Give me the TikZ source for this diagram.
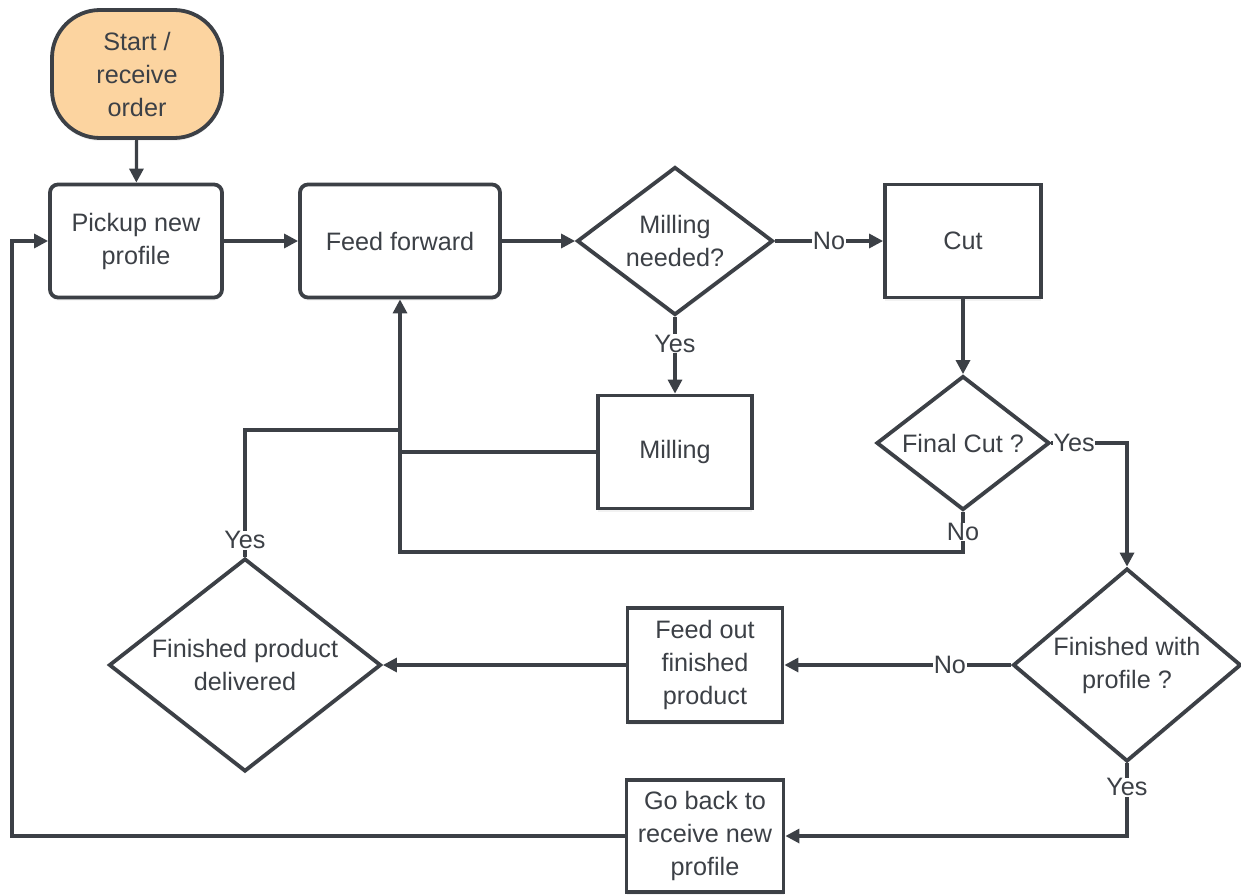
\documentclass[tikz,border=0pt]{standalone}
\usepackage{fontspec}
\setmainfont{Liberation Sans}
\usetikzlibrary{arrows.meta,shapes.geometric,shadows}
\definecolor{ink}{RGB}{60,64,70}
\definecolor{startfill}{RGB}{252,212,160}
\tikzset{
  every node/.style={font=\fontsize{12.6}{16.5}\selectfont, text=ink},
  softshadow/.style={drop shadow={shadow xshift=0pt, shadow yshift=-1.5pt, opacity=0.10}},
  box/.style={draw=ink, line width=1.9pt, fill=white, align=center, inner sep=0pt, softshadow},
  rbox/.style={box, rounded corners=4pt},
  dia/.style={diamond, draw=ink, line width=1.9pt, fill=white, inner sep=0pt, softshadow},
  txt/.style={align=center, inner sep=0pt},
  conn/.style={draw=ink, line width=1.6pt},
  arr/.style={conn, -{Triangle[length=7pt,width=7pt]}},
  lbl/.style={fill=white, inner sep=0.3pt},
}
\begin{document}
\begin{tikzpicture}[x=0.5pt,y=-0.5pt]
\useasboundingbox (0,0) rectangle (1241,894);

% process steps
\node[box, fill=startfill, rounded corners=24pt, minimum width=85pt, minimum height=64pt] (start) at (137,74) {Start /\\receive\\order};
\node[rbox, minimum width=86pt, minimum height=56.5pt] (pickup) at (136,241) {Pickup new\\profile};
\node[rbox, minimum width=100pt, minimum height=56.5pt] (feed) at (400,241) {Feed forward};
\node[box, minimum width=78pt, minimum height=56.5pt] (cut) at (963,241) {Cut};
\node[box, minimum width=77pt, minimum height=56.5pt] (mill) at (675,452) {Milling};
\node[box, minimum width=77.5pt, minimum height=57pt] (feedout) at (705,665) {Feed out\\finished\\product};
\node[box, minimum width=78.5pt, minimum height=56pt] (goback) at (705,836) {Go back to\\receive new\\profile};

% decisions
\node[dia, minimum width=98pt, minimum height=74pt] (d1) at (675,241) {};
\node[txt] (d1t) at (d1) {Milling\\needed?};
\node[dia, minimum width=86.5pt, minimum height=67pt] (d2) at (963,443) {};
\node[txt] (d2t) at (d2) {Final Cut ?};
\node[dia, minimum width=114pt, minimum height=96.5pt] (d3) at (1127,665) {};
\node[txt] (d3t) at (d3) {Finished with\\profile ?};
\node[dia, minimum width=136pt, minimum height=106.5pt] (d4) at (245,665) {};
\node[txt] (d4t) at (d4) {Finished product\\delivered};

% corner points of the routed connectors
\coordinate (c1) at (963,552);
\coordinate (j1) at (400,452);
\coordinate (c2) at (245,430);
\coordinate (j2) at (400,430);
\coordinate (c3) at (12,836);

% connectors
\draw[arr] (start) -- (pickup);
\draw[arr] (pickup) -- (feed);
\draw[arr] (feed) -- (d1);
\draw[arr] (d1) -- node[lbl]{No} (cut);
\draw[arr] (d1) -- node[lbl,pos=0.35]{Yes} (mill);
\draw[arr] (cut) -- (d2);
\draw[arr] (d2.east) -| node[lbl,pos=0.15]{Yes} (d3.north);
\draw[arr] (d2.south) -- node[lbl]{No} (c1) -| (feed.south);
\draw[conn] (mill) -- (j1);
\draw[conn] (d4.north) -- node[lbl,pos=0.13]{Yes} (c2) -- (j2);
\draw[arr] (d3.west) -- node[lbl,pos=0.27]{No} (feedout.east);
\draw[arr] (feedout.west) -- (d4.east);
\draw[arr] (d3.south) |- node[lbl,pos=0.165]{Yes} (goback.east);
\draw[arr] (goback.west) -- (c3) |- (pickup.west);
\end{tikzpicture}
\end{document}
